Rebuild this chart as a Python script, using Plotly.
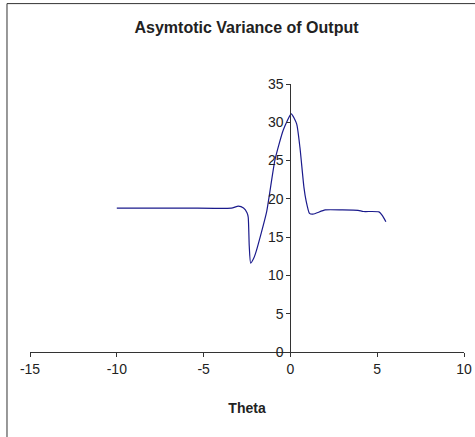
import plotly.graph_objects as go

theta = [-10, -6, -3.4, -3.0, -2.7, -2.5, -2.43, -2.37, -2.29, -2.1, -1.95, -1.37,
         -0.89, -0.41, 0.05, 0.36, 0.55, 0.78, 0.9, 1.1, 1.3, 2.0, 3.0, 3.9, 4.2, 5.1, 5.3, 5.5]
variance = [18.8, 18.8, 18.8, 19.05, 18.8, 18.2, 17.6, 13.8, 11.6, 12.3, 13.3, 18.3,
            25.1, 29.0, 31.1, 29.8, 26.7, 21.5, 19.8, 18.1, 18.0, 18.55, 18.55, 18.5, 18.35, 18.3, 17.8, 17.0]

x_ticks = [-15, -10, -5, 0, 5, 10]
y_ticks = [0, 5, 10, 15, 20, 25, 30, 35]

fig = go.Figure()
fig.add_trace(go.Scatter(
    x=theta, y=variance, mode="lines",
    line=dict(color="#1a1a8c", width=1.2, shape="spline", smoothing=0.5),
    showlegend=False, hoverinfo="skip",
))

font = "Liberation Sans, Arial, sans-serif"
fig.update_layout(
    width=475, height=437,
    margin=dict(l=30, r=11, t=84, b=85, autoexpand=False),
    paper_bgcolor="white", plot_bgcolor="white",
    font=dict(family=font, size=14, color="#222"),
    title=dict(text="<b>Asymtotic Variance of Output</b>", x=0.519, xanchor="center",
               y=0.938, yanchor="middle", font=dict(size=16, family=font, color="#222")),
    xaxis=dict(range=[-15, 10], tickvals=x_ticks, ticktext=[str(v) for v in x_ticks],
               showgrid=False, zeroline=False, showline=True, linecolor="#333", linewidth=1,
               ticks="outside", ticklen=4, tickcolor="#333", automargin=False,
               title=dict(text="<b>Theta</b>", font=dict(size=14, family=font, color="#222"),
                          standoff=27),
               tickfont=dict(size=14)),
    yaxis=dict(range=[0, 35], tickvals=y_ticks, ticktext=[str(v) for v in y_ticks],
               showgrid=False, zeroline=False, showline=True, linecolor="#333", linewidth=1,
               ticks="outside", ticklen=4, tickcolor="#333", automargin=False,
               anchor="free", position=0.6, tickfont=dict(size=14)),
    shapes=[dict(type="rect", xref="paper", yref="paper", x0=-0.053, x1=1.04, y0=-0.4, y1=1.3,
                 line=dict(color="#333", width=1), fillcolor="rgba(0,0,0,0)")],
)

fig.write_html("out.html", config={"displayModeBar": False},
               post_script="document.body.style.margin='0';")
